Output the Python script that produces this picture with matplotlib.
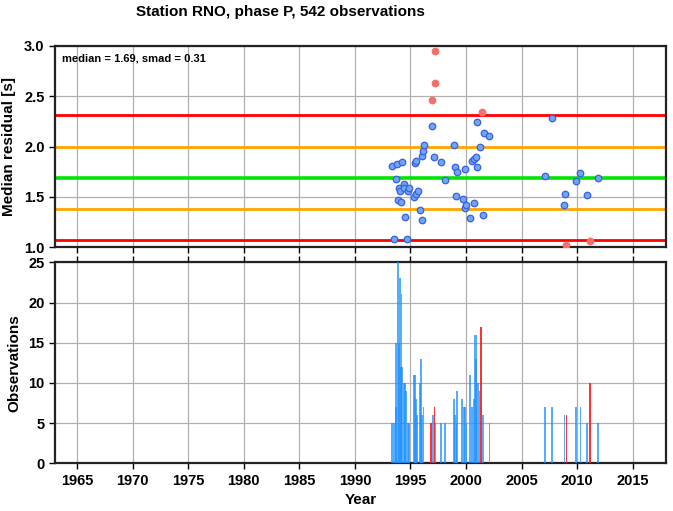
import numpy as np
import matplotlib
matplotlib.use("Agg")
import matplotlib.pyplot as plt

plt.rcParams['font.family'] = ['Liberation Sans', 'DejaVu Sans']

# residual summary per cluster of events (year, median residual)
point_year = [1993.37, 1993.51, 1993.67, 1993.78, 1993.85, 1993.94, 1994.05, 1994.12,
              1994.20, 1994.38, 1994.45, 1994.54, 1994.72, 1994.77, 1994.90, 1995.31,
              1995.40, 1995.46, 1995.52, 1995.64, 1995.88, 1996.00, 1996.07, 1996.16,
              1996.25, 1996.90, 1996.97, 1997.08, 1997.17, 1997.24, 1997.77, 1998.07,
              1998.94, 1999.03, 1999.09, 1999.18, 1999.69, 1999.87, 1999.93, 2000.02,
              2000.38, 2000.56, 2000.71, 2000.74, 2000.86, 2000.95, 2001.00, 2001.28,
              2001.40, 2001.49, 2001.58, 2002.10, 2007.07, 2007.76, 2008.86, 2008.95,
              2009.04, 2009.88, 2010.30, 2010.90, 2011.14, 2011.89]
point_resid = [1.81, 1.08, 1.68, 1.83, 1.47, 1.585, 1.56, 1.45,
               1.85, 1.625, 1.585, 1.30, 1.08, 1.56, 1.585, 1.50,
               1.84, 1.86, 1.53, 1.56, 1.37, 1.91, 1.27, 1.96,
               2.02, 2.46, 2.205, 1.90, 2.63, 2.95, 1.85, 1.67,
               2.02, 1.80, 1.51, 1.75, 1.48, 1.39, 1.78, 1.42,
               1.29, 1.855, 1.44, 1.88, 1.90, 1.80, 2.24, 2.00,
               2.34, 1.32, 2.14, 2.11, 1.705, 2.28, 1.42, 1.53,
               1.02, 1.655, 1.74, 1.52, 1.065, 1.69]

# observation counts per cluster
bar_year = [1993.35, 1993.50, 1993.67, 1993.73, 1993.85, 1993.95, 1994.03, 1994.14,
            1994.20, 1994.27, 1994.40, 1994.50, 1994.60, 1994.78, 1994.86, 1995.33,
            1995.40, 1995.50, 1995.62, 1995.85, 1995.97, 1996.07, 1996.18, 1996.87,
            1997.02, 1997.17, 1997.26, 1997.77, 1998.10, 1998.91, 1999.00, 1999.15,
            1999.18, 1999.66, 1999.80, 1999.90, 2000.05, 2000.35, 2000.53, 2000.71,
            2000.80, 2000.89, 2000.95, 2001.10, 2001.22, 2001.37, 2001.52, 2002.12,
            2007.13, 2007.76, 2008.86, 2009.04, 2009.88, 2010.30, 2010.90, 2011.14,
            2011.89]
bar_count = [5, 5, 15, 7, 25, 15, 23, 12,
             21, 12, 10, 10, 9, 5, 5, 11,
             11, 8, 6, 10, 13, 6, 7, 5,
             6, 7, 5, 5, 5, 8, 6, 5,
             9, 8, 7, 7, 5, 11, 7, 8,
             16, 13, 16, 10, 9, 17, 6, 5,
             7, 7, 6, 6, 7, 7, 5, 10,
             5]
bar_outlier = [0, 0, 0, 0, 0, 0, 0, 0,
               0, 0, 0, 0, 0, 0, 0, 0,
               0, 0, 0, 0, 0, 0, 0, 1,
               0, 1, 0, 0, 0, 0, 0, 0,
               0, 0, 0, 0, 0, 0, 0, 0,
               0, 0, 0, 0, 0, 1, 0, 0,
               0, 0, 0, 1, 0, 0, 0, 1,
               0]

median = 1.69
smad = 0.31

x_ticks = [1965, 1970, 1975, 1980, 1985, 1990, 1995, 2000, 2005, 2010, 2015]

fig = plt.figure(figsize=(6.73, 5.11), dpi=100)
ax1 = fig.add_axes([0.0817, 0.516, 0.9079, 0.394])
ax2 = fig.add_axes([0.0817, 0.0933, 0.9079, 0.3934])

px = np.array(point_year)
py = np.array(point_resid)
out = (py > median + 2 * smad) | (py < median - 2 * smad)

for ax in (ax1, ax2):
    ax.set_xlim(1963, 2018)
    ax.set_xticks(x_ticks)
    ax.grid(True, color='#b0b0b0', lw=0.9)
    ax.set_axisbelow(True)
    for s in ax.spines.values():
        s.set_linewidth(1.6)
        s.set_color('#222222')
    ax.tick_params(direction='out', length=4, width=1, labelsize=10.5)
    for lab in ax.get_yticklabels() + ax.get_xticklabels():
        lab.set_fontweight('bold')

# top panel
ax1.set_ylim(1.0, 3.0)
ax1.set_yticks([1.0, 1.5, 2.0, 2.5, 3.0])
ax1.set_yticklabels(['1.0', '1.5', '2.0', '2.5', '3.0'], fontweight='bold')
ax1.tick_params(axis='x', labelbottom=False)
ax1.axhline(median + 2 * smad, color='#ff0000', lw=2, zorder=2)
ax1.axhline(median - 2 * smad, color='#ff0000', lw=2, zorder=2)
ax1.axhline(median + smad, color='#ffa500', lw=2, zorder=2)
ax1.axhline(median - smad, color='#ffa500', lw=2, zorder=2)
ax1.axhline(median, color='#00e600', lw=2.6, zorder=2)
ax1.scatter(px[~out], py[~out], s=22, color='#6fa5f2', edgecolor='#3b5fe0',
            lw=0.9, zorder=3)
ax1.scatter(px[out], py[out], s=22, color='#f76f6a', edgecolor='#f76f6a',
            lw=0.9, zorder=3)
ax1.text(0.012, 0.965, 'median = %.2f, smad = %.2f' % (median, smad),
         transform=ax1.transAxes, ha='left', va='top', fontsize=8,
         fontweight='bold')
ax1.set_ylabel('Median residual [s]', fontsize=11, fontweight='bold', labelpad=6)

# bottom panel
by = np.array(bar_year)
bc = np.array(bar_count)
bo = np.array(bar_outlier, dtype=bool)
ax2.set_ylim(0, 25)
ax2.set_yticks([0, 5, 10, 15, 20, 25])
ax2.set_yticklabels(['0', '5', '10', '15', '20', '25'], fontweight='bold')
ax2.bar(by[~bo], bc[~bo], width=0.16, color='#1e90ff', alpha=0.75, lw=0, zorder=3)
ax2.bar(by[bo], bc[bo], width=0.16, color='#ff1a1a', alpha=0.9, lw=0, zorder=3)
ax2.tick_params(top=True)
ax2.set_ylabel('Observations', fontsize=11, fontweight='bold', labelpad=5)
ax2.set_xlabel('Year', fontsize=11, fontweight='bold')

fig.text(0.416, 0.976, 'Station RNO, phase P, 542 observations', ha='center',
         va='center', fontsize=11, fontweight='bold')

fig.savefig('out.png', dpi=100)
